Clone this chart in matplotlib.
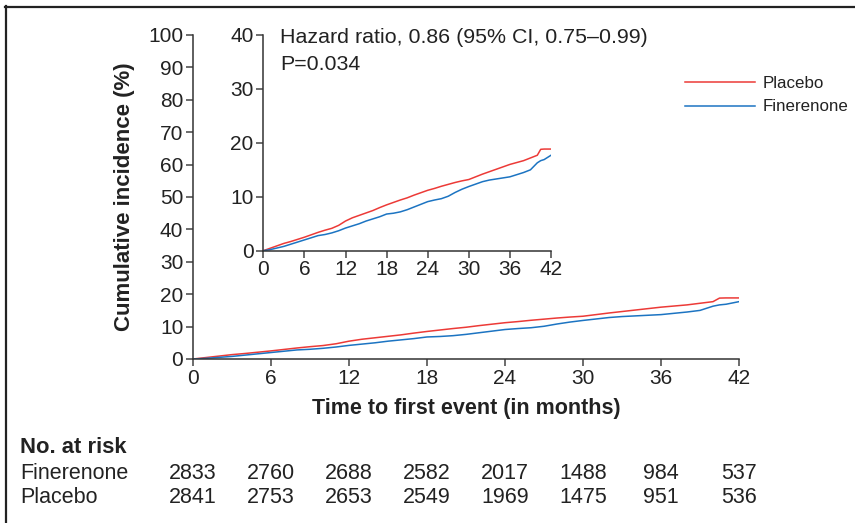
import matplotlib
matplotlib.use("Agg")
import matplotlib.pyplot as plt
from matplotlib.lines import Line2D
import matplotlib.transforms as mtransforms

plt.rcParams['font.family'] = ['Liberation Sans', 'DejaVu Sans']

# ---- data ----
months = [0, 1, 2, 3, 4, 5, 6, 7, 8, 9, 10, 11, 12, 13, 14, 15, 16, 17, 18, 19, 20,
          21, 22, 23, 24, 25, 26, 27, 28, 29, 30, 31, 32, 33, 34, 35, 36, 37, 38, 39,
          40, 40.5, 41, 42]
placebo = [0, 0.45, 0.9, 1.35, 1.7, 2.1, 2.5, 2.95, 3.4, 3.8, 4.15, 4.7, 5.5, 6.1, 6.55,
           7.0, 7.45, 8.0, 8.5, 8.95, 9.4, 9.8, 10.3, 10.75, 11.2, 11.55, 11.95, 12.3,
           12.65, 12.95, 13.2, 13.7, 14.2, 14.65, 15.1, 15.55, 16.0, 16.35, 16.7, 17.2,
           17.7, 18.8, 18.85, 18.85]
finerenone = [0, 0.2, 0.5, 0.8, 1.2, 1.6, 2.0, 2.4, 2.8, 3.0, 3.3, 3.7, 4.2, 4.6, 5.0,
              5.5, 5.9, 6.3, 6.8, 6.95, 7.2, 7.6, 8.1, 8.6, 9.1, 9.4, 9.65, 10.1, 10.8,
              11.4, 11.9, 12.35, 12.8, 13.1, 13.3, 13.5, 13.7, 14.1, 14.5, 15.0, 16.3,
              16.7, 16.9, 17.7]

risk_times = [0, 6, 12, 18, 24, 30, 36, 42]
risk_finerenone = [2833, 2760, 2688, 2582, 2017, 1488, 984, 537]
risk_placebo = [2841, 2753, 2653, 2549, 1969, 1475, 951, 536]

main_yticks = list(range(0, 101, 10))
inset_yticks = [0, 10, 20, 30, 40]
xticks = [0, 6, 12, 18, 24, 30, 36, 42]

hr_line1 = "Hazard ratio, 0.86 (95% CI, 0.75\u20130.99)"
hr_line2 = "P=0.034"

RED = '#ec3a37'
BLUE = '#1c74c2'
AX = '#333333'
TXT = '#222222'

W, H = 855, 523
fig = plt.figure(figsize=(W / 100, H / 100), dpi=100)


def fx(px):
    return px / W


def fy(py):
    return 1 - py / H


def style_axes(ax):
    for s in ['top', 'right']:
        ax.spines[s].set_visible(False)
    for s in ['left', 'bottom']:
        ax.spines[s].set_color(AX)
        ax.spines[s].set_linewidth(1.1)
    ax.tick_params(direction='out', length=5, width=1.1, color='#444444',
                   labelsize=15, labelcolor=TXT, pad=2)
    ax.set_facecolor('none')


# main axes
x0, x1, y0, y1 = 193, 739, 359, 35
ax = fig.add_axes([fx(x0), fy(y0), fx(x1) - fx(x0), fy(y1) - fy(y0)])
style_axes(ax)
ax.plot(months, placebo, color=RED, lw=1.1, label='Placebo')
ax.plot(months, finerenone, color=BLUE, lw=1.1, label='Finerenone')
ax.set_xlim(0, 42)
ax.set_ylim(0, 100)
ax.set_xticks(xticks)
ax.set_yticks(main_yticks)
ax.set_xlabel('Time to first event (in months)', fontsize=15.5, fontweight='bold',
              color=TXT)
ax.set_ylabel('Cumulative incidence (%)', fontsize=16, fontweight='bold', color=TXT)
ax.xaxis.set_label_coords(0.5, (y0 - 398) / (y0 - y1))
ax.yaxis.set_label_coords((135 - x0) / (x1 - x0), 0.5)

# inset axes
ix0, ix1, iy0, iy1 = 263.3, 551, 250.7, 35
axi = fig.add_axes([fx(ix0), fy(iy0), fx(ix1) - fx(ix0), fy(iy1) - fy(iy0)])
style_axes(axi)
axi.plot(months, placebo, color=RED, lw=1.1)
axi.plot(months, finerenone, color=BLUE, lw=1.1)
axi.set_xlim(0, 42)
axi.set_ylim(0, 40)
axi.set_xticks(xticks)
axi.set_yticks(inset_yticks)
fig.text(fx(280), fy(42.7), hr_line1, fontsize=15.4, color=TXT, va='baseline', ha='left')
fig.text(fx(280), fy(70), hr_line2, fontsize=15.4, color=TXT, va='baseline', ha='left')

# legend
h_pl, h_fi = ax.get_lines()
leg = fig.legend([h_pl, h_fi], ['Placebo', 'Finerenone'], loc='upper left',
                 bbox_to_anchor=(fx(685), fy(76)), frameon=False, fontsize=12.2,
                 handlelength=4.14, handletextpad=0.47, labelspacing=0.5,
                 borderaxespad=0, borderpad=0)
for t in leg.get_texts():
    t.set_color(TXT)

# risk table
fig.text(fx(20), fy(453.3), 'No. at risk', fontsize=15.8, fontweight='bold',
         color=TXT, va='baseline', ha='left')
fig.text(fx(20), fy(479.3), 'Finerenone', fontsize=15.5, color=TXT, va='baseline', ha='left')
fig.text(fx(20), fy(502.7), 'Placebo', fontsize=15.5, color=TXT, va='baseline', ha='left')
trans = mtransforms.blended_transform_factory(ax.transData, fig.transFigure)
for t, a, b in zip(risk_times, risk_finerenone, risk_placebo):
    fig.text(t, fy(479.3), str(a), transform=trans, fontsize=15.5, color=TXT,
             ha='center', va='baseline')
    fig.text(t, fy(502.7), str(b), transform=trans, fontsize=15.5, color=TXT,
             ha='center', va='baseline')

# partial frame (top and left)
fig.add_artist(Line2D([fx(5), fx(855)], [fy(6.5), fy(6.5)], transform=fig.transFigure,
                      color='#222222', lw=1.6))
fig.add_artist(Line2D([fx(5.5), fx(5.5)], [fy(6), fy(523)], transform=fig.transFigure,
                      color='#222222', lw=1.6))

fig.savefig('out.png', dpi=100)
